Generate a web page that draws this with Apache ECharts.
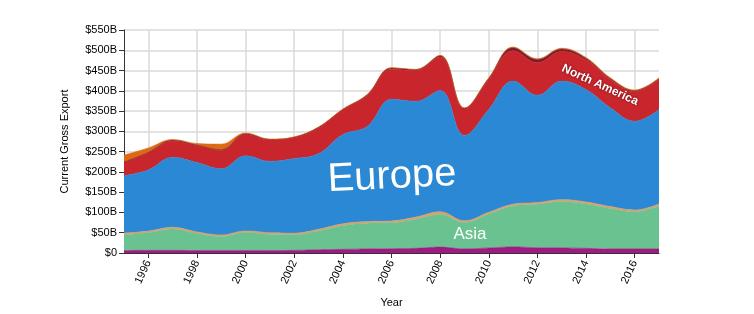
<!DOCTYPE html>
<html>
<head>
<meta charset="utf-8">
<script src="https://cdn.jsdelivr.net/npm/echarts@6/dist/echarts.min.js"></script>
<style>html,body{margin:0;padding:0;background:#fff}#c{width:754px;height:314px}</style>
</head>
<body>
<div id="c"></div>
<script>
var years = ['1995','1996','1997','1998','1999','2000','2001','2002','2003','2004','2005','2006','2007','2008','2009','2010','2011','2012','2013','2014','2015','2016','2017'];
var yTicks = [0,50,100,150,200,250,300,350,400,450,500,550];
var africa       = [6, 6.5, 6.5, 6, 6, 6, 6, 6.5, 8, 9, 10, 10.5, 11.5, 14.5, 10, 12.5, 15, 13, 12.5, 11.5, 10, 10, 10];
var asia         = [38, 44, 53, 42, 34.5, 44.5, 40, 38.5, 46.5, 58.5, 63.5, 64.5, 72, 80.5, 65, 83.5, 101, 107, 114.5, 109.5, 100, 92, 106];
var oceania      = [5, 3.5, 4, 4, 4, 4, 4, 4, 4, 4.5, 4, 4, 5, 7, 4.5, 4.5, 4.5, 4.5, 4.5, 5, 4.5, 4, 5];
var europe       = [142, 151, 172.5, 171, 163.5, 185.5, 176, 184, 186.5, 220, 234.5, 300, 285.5, 299, 210.5, 253.5, 303.5, 264.5, 292.5, 277, 243.5, 219, 233];
var northAmerica = [32, 41.5, 40.5, 41.5, 45, 52.5, 52.5, 51, 63.5, 60.5, 76, 74.5, 75.5, 82.5, 65, 73.5, 75, 80, 73, 73, 69.5, 73, 74];
var southAmerica = [1.5, 1.5, 1.5, 1.5, 1.5, 1.5, 1.5, 1.5, 1.5, 1.5, 2, 2.5, 2.5, 3, 2, 3, 7, 8, 6, 4, 2.5, 2, 2];
var other        = [17, 11, 2, 4, 14, 2, 1, 1, 1, 1, 1, 1, 1, 1, 1, 1.5, 2, 2, 2, 2, 2, 2, 2];

var FONT = '"Liberation Sans", Arial, Helvetica, sans-serif';
function layer(name, data, color) {
  return {
    name: name, type: 'line', stack: 'total', data: data,
    smooth: 0.4, symbol: 'none', showSymbol: false,
    lineStyle: { width: 0.6, color: color },
    areaStyle: { color: color, opacity: 1 },
    emphasis: { disabled: true }
  };
}
var chart = echarts.init(document.getElementById('c'), null, { renderer: 'canvas' });
var oddIdx = function (i) { return i % 2 === 1; };
chart.setOption({
  animation: false,
  textStyle: { fontFamily: FONT },
  grid: { left: 124, right: 95, top: 30, bottom: 61, containLabel: false },
  xAxis: {
    type: 'category', data: years, boundaryGap: false,
    name: 'Year', nameLocation: 'middle', nameGap: 44,
    nameTextStyle: { fontFamily: FONT, fontSize: 11, color: '#000' },
    axisLine: { lineStyle: { color: '#333', width: 1 } },
    axisTick: { interval: oddIdx, length: 5, lineStyle: { color: '#333' } },
    axisLabel: { interval: oddIdx, rotate: 65, margin: 8, fontFamily: FONT, fontSize: 11, color: '#000' },
    splitLine: { show: true, interval: oddIdx, lineStyle: { color: '#dadada', width: 1.5 } }
  },
  yAxis: {
    type: 'value', min: 0, max: 550, interval: 50,
    name: 'Current Gross Export', nameLocation: 'middle', nameGap: 54,
    nameTextStyle: { fontFamily: FONT, fontSize: 11, color: '#000' },
    axisLine: { show: true, lineStyle: { color: '#333', width: 1 } },
    axisTick: { show: true, length: 5, lineStyle: { color: '#333' } },
    axisLabel: { margin: 7, fontFamily: FONT, fontSize: 11, color: '#000',
      formatter: function (v) { return v === 0 ? '$0' : '$' + v + 'B'; } },
    splitLine: { show: true, lineStyle: { color: '#dadada', width: 1.5 } }
  },
  series: [
    layer('Africa', africa, '#a01a83'),
    layer('Asia', asia, '#6bc291'),
    layer('Oceania', oceania, '#e19f68'),
    layer('Europe', europe, '#2b88d4'),
    layer('North America', northAmerica, '#c8252c'),
    layer('South America', southAmerica, '#7c1c2c'),
    layer('Other', other, '#dc6a14')
  ],
  graphic: {
    elements: [
      { type: 'text', x: 392, y: 177, rotation: 0.05, z: 100,
        style: { text: 'Europe', fill: '#ffffff', fontSize: 40, fontFamily: 'Liberation Sans', align: 'center', verticalAlign: 'middle' } },
      { type: 'text', x: 470, y: 234, z: 100,
        style: { text: 'Asia', fill: '#ffffff', fontSize: 17, fontFamily: 'Liberation Sans', align: 'center', verticalAlign: 'middle' } },
      { type: 'text', x: 600, y: 85, rotation: -0.43, z: 100,
        style: { text: 'North America', fill: '#ffffff', fontSize: 12, fontWeight: 'bold', fontFamily: 'Liberation Sans', align: 'center', verticalAlign: 'middle',
          textShadowColor: 'rgba(70,0,0,0.9)', textShadowBlur: 2 } }
    ]
  }
});
</script>
</body>
</html>
